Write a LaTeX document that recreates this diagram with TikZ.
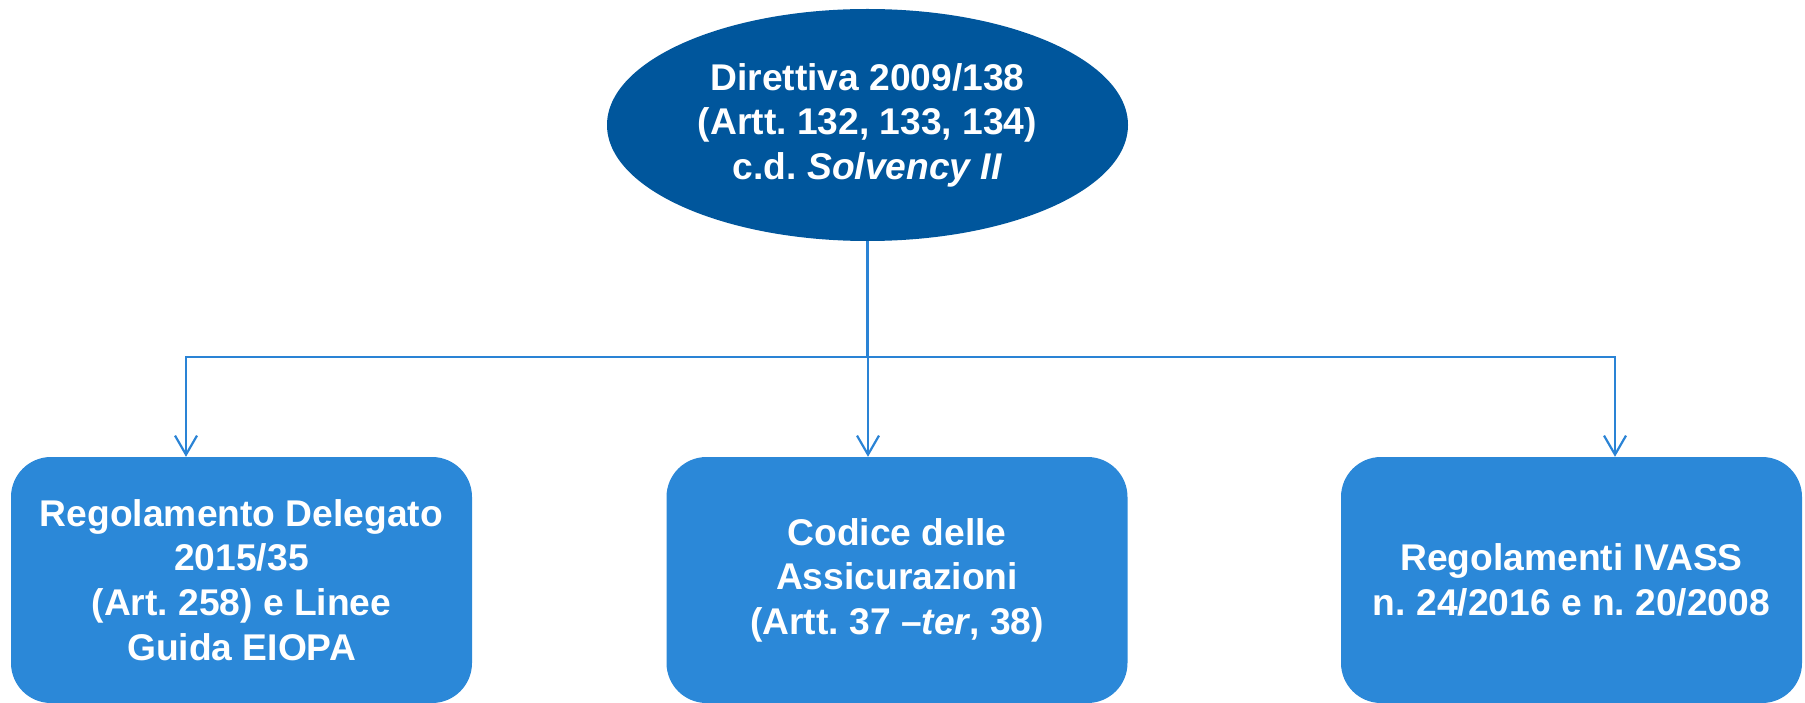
\documentclass[tikz,border=0pt]{standalone}
\usepackage{fontspec}
\setmainfont{Liberation Sans}
\usetikzlibrary{calc,arrows.meta,shapes.geometric}

\definecolor{darkblu}{RGB}{0,86,156}
\definecolor{boxblu}{RGB}{43,136,216}
\definecolor{lineblu}{RGB}{42,131,213}
\frenchspacing

\begin{document}
\begin{tikzpicture}[x=1pt,y=-1pt,
        txt/.style={text=white, align=center, inner sep=0pt,
            font=\fontsize{37.2}{44.6}\selectfont\bfseries},
        box/.style={txt, fill=boxblu, rounded corners=40pt,
            minimum width=461pt, minimum height=246pt},
        link/.style={draw=lineblu, line width=2.2pt},
        arr/.style={link, -{Straight Barb[length=19pt,width=22pt]}}]
            \useasboundingbox (0,0) rectangle (1805,703);

            \node (A) at (867.5,125) [txt, ellipse, fill=darkblu,
                minimum width=521pt, minimum height=232pt]
                {Direttiva 2009/138\\(Artt. 132, 133, 134)\\c.d. \textit{Solvency II}};

            \node (B) at (241.5,580) [box] {Regolamento Delegato\\2015/35\\(Art. 258) e Linee\\Guida EIOPA};
            \node (C) at (897,580) [box] {Codice delle\\Assicurazioni\\(Artt. 37 –\textit{ter}, 38)};
            \node (D) at (1571.5,580) [box] {Regolamenti IVASS\\n. 24/2016 e n. 20/2008};

            \coordinate (J) at (867.5,357);
            \draw [link] (A.south) -- (J);

            \foreach \n/\dx in {B/-55.5, C/-29, D/43.5}
                {
                    \draw [arr] (J) -| ($(\n.north) + (\dx,0)$);
                }

        \end{tikzpicture}
\end{document}
